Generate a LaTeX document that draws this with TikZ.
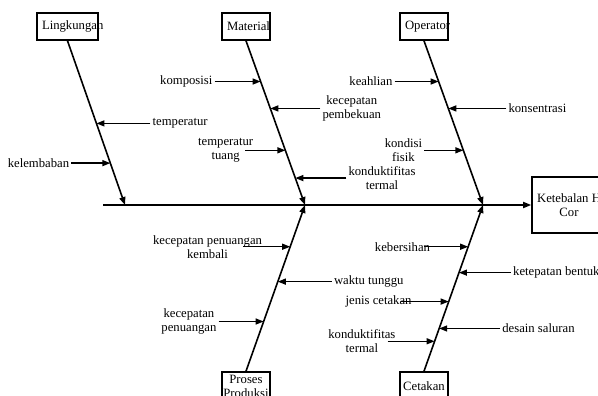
\documentclass[tikz,border=0pt]{standalone}
\usepackage{fontspec}
\setmainfont{Liberation Serif}
\usetikzlibrary{arrows.meta,positioning,calc}

\begin{document}
\begin{tikzpicture}[x=1pt, y=-1pt, every node/.style={font=\fontsize{12.7}{14}\selectfont},
  causebox/.style={rectangle, draw, line width=1.6pt, minimum height=27pt, inner xsep=5pt, inner ysep=2pt},
  bone/.style={line width=1.6pt, -{Triangle[length=8pt,width=6pt]}},
  sub/.style={line width=1.4pt, -{Triangle[length=8pt,width=6pt]}},
  cause/.style={inner sep=2pt, align=center}]
\useasboundingbox (0,0) rectangle (598,396);
% main categories and effect
\node[causebox] (ling) at (67.5,26.5) {\makebox[51pt][l]{Lingkungan}};
\node[causebox] (mat) at (246,26.5) {\makebox[38pt][l]{Material}};
\node[causebox] (op) at (424,26.5) {\makebox[38pt][l]{Operator}};
\node[causebox, minimum height=28pt, minimum width=48pt, align=center, inner xsep=1pt] (pp) at (246,386) {Proses\\Produksi};
\node[causebox, minimum height=28pt, minimum width=48pt, inner xsep=3pt] (cet) at (424,386) {Cetakan};
\node[causebox, minimum width=74pt, minimum height=56pt, align=center] (eff) at (569,205) {Ketebalan H\\Cor};
% spine and bones
\coordinate (tail) at (103,205);
\coordinate (j1) at (125,205);
\coordinate (j2) at (305,205);
\coordinate (j3) at (483,205);
\draw[bone] (tail) -- (eff.west);
\draw[bone] (ling.south) -- (j1);
\draw[bone] (mat.south) -- (j2);
\draw[bone] (op.south) -- (j3);
\draw[bone] (pp.north) -- (j2);
\draw[bone] (cet.north) -- (j3);
% Lingkungan
\coordinate (l1) at ($(ling.south)!0.503!(j1)$);
\coordinate (l2) at ($(ling.south)!0.745!(j1)$);
\node[cause, right=54pt of l1] (temp) {temperatur};
\node[cause, left=39pt of l2] (lemb) {kelembaban};
\draw[sub] (temp.west) -- (l1);
\draw[sub] (lemb.east) -- (l2);
% Material
\coordinate (m1) at ($(mat.south)!0.248!(j2)$);
\coordinate (m2) at ($(mat.south)!0.412!(j2)$);
\coordinate (m3) at ($(mat.south)!0.667!(j2)$);
\coordinate (m4) at ($(mat.south)!0.836!(j2)$);
\node[cause, left=46pt of m1] (komp) {komposisi};
\node[cause, right=50pt of m2] (kpb) {kecepatan\\pembekuan};
\node[cause, left=30pt of m3] (ttu) {temperatur\\tuang};
\node[cause, right=51pt of m4] (kt1) {konduktifitas\\termal};
\draw[sub] (komp.east) -- (m1);
\draw[sub] (kpb.west) -- (m2);
\draw[sub] ([xshift=-10pt]ttu.east) -- (m3);
\draw[sub] (kt1.west) -- (m4);
% Operator
\coordinate (o1) at ($(op.south)!0.248!(j3)$);
\coordinate (o2) at ($(op.south)!0.412!(j3)$);
\coordinate (o3) at ($(op.south)!0.667!(j3)$);
\node[cause, left=44pt of o1] (keah) {keahlian};
\node[cause, right=58pt of o2] (kons) {konsentrasi};
\node[cause, left=39pt of o3] (kfis) {kondisi\\fisik};
\draw[sub] (keah.east) -- (o1);
\draw[sub] (kons.west) -- (o2);
\draw[sub] (kfis.east) -- (o3);
% Proses Produksi
\coordinate (p1) at ($(pp.north)!0.749!(j2)$);
\coordinate (p2) at ($(pp.north)!0.539!(j2)$);
\coordinate (p3) at ($(pp.north)!0.299!(j2)$);
\node[cause, left=26pt of p1] (kpk) {kecepatan penuangan\\kembali};
\node[cause, right=54pt of p2] (wtu) {waktu tunggu};
\node[cause, left=45pt of p3] (kpn) {kecepatan\\penuangan};
\draw[sub] ([xshift=-21pt]kpk.east) -- (p1);
\draw[sub] (wtu.west) -- (p2);
\draw[sub] (kpn.east) -- (p3);
% Cetakan
\coordinate (c1) at ($(cet.north)!0.749!(j3)$);
\coordinate (c2) at ($(cet.north)!0.593!(j3)$);
\coordinate (c3) at ($(cet.north)!0.419!(j3)$);
\coordinate (c4) at ($(cet.north)!0.257!(j3)$);
\coordinate (c5) at ($(cet.north)!0.180!(j3)$);
\node[cause, left=36pt of c1] (kber) {kebersihan};
\node[cause, right=52pt of c2] (kbnt) {ketepatan bentuk};
\node[cause, left=35pt of c3] (jcet) {jenis cetakan};
\node[cause, right=61pt of c4] (dsal) {desain saluran};
\node[cause, left=37pt of c5] (kt2) {konduktifitas\\termal};
\draw[sub] ([xshift=-8pt]kber.east) -- (c1);
\draw[sub] (kbnt.west) -- (c2);
\draw[sub] ([xshift=-13pt]jcet.east) -- (c3);
\draw[sub] (dsal.west) -- (c4);
\draw[sub] ([xshift=-10pt]kt2.east) -- (c5);
\end{tikzpicture}
\end{document}
